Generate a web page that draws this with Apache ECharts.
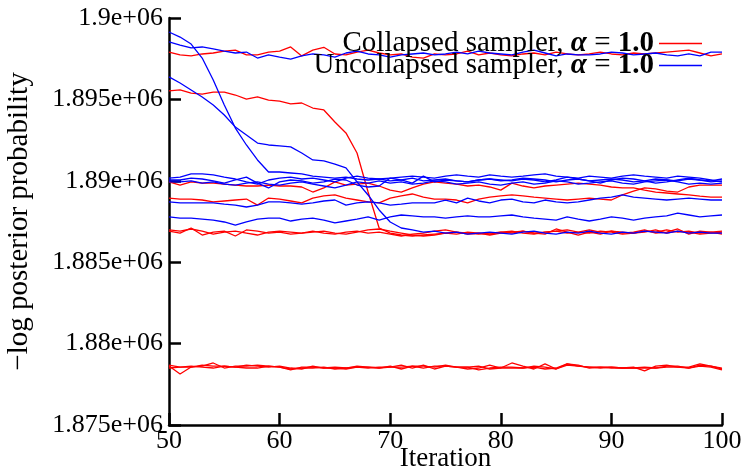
<!DOCTYPE html>
<html><head><meta charset="utf-8">
<script src="https://cdn.jsdelivr.net/npm/echarts@6/dist/echarts.min.js"></script>
<style>html,body{margin:0;padding:0;background:#fff}#c{width:747px;height:470px}</style>
</head><body><div id="c"></div>
<script>
const iterations = [50,51,52,53,54,55,56,57,58,59,60,61,62,63,64,65,66,67,68,69,70,71,72,73,74,75,76,77,78,79,80,81,82,83,84,85,86,87,88,89,90,91,92,93,94,95,96,97,98,99,100];
const yTicks = [1875000,1880000,1885000,1890000,1895000,1900000];
const collapsedName = 'Collapsed sampler, α = 1.0';
const uncollapsedName = 'Uncollapsed sampler, α = 1.0';

// Collapsed sampler runs (red)
const redA = [1897910,1897730,1897670,1897790,1897850,1897970,1898030,1897730,1897730,1897910,
  1897970,1898220,1897670,1898030,1898200,1897790,1897730,1897910,1898030,1897850,
  1897730,1897790,1897600,1897540,1897790,1897730,1897790,1897970,1897730,1897850,
  1897730,1897670,1897790,1897850,1897730,1897910,1897790,1897730,1897790,1897910,
  1897790,1897730,1897850,1897790,1897850,1897910,1897970,1898030,1897850,1897670,
  1897790];
const redB = [1895520,1895580,1895390,1895330,1895450,1895450,1895270,1895020,1895150,1894960,
  1894900,1894720,1894780,1894470,1894350,1893610,1892940,1891710,1889310,1887100,
  1886790,1886670,1886610,1886670,1886730,1886790,1886730,1886850,1886790,1886730,
  1886850,1886790,1886910,1886790,1886850,1886910,1886790,1886850,1886980,1886850,
  1886910,1886850,1886790,1886910,1886850,1886980,1886850,1886910,1886790,1886850,
  1886910];
const redC = [1889930,1889740,1889930,1889860,1889860,1889800,1889740,1889680,1889680,1889740,
  1889680,1889680,1889620,1889310,1889560,1889930,1889740,1889800,1889860,1889680,
  1889430,1889310,1889560,1889800,1889930,1889860,1889800,1889680,1889740,1889620,
  1889430,1889860,1889680,1889560,1889680,1889740,1889800,1889860,1889800,1889740,
  1889620,1889560,1889560,1889430,1889310,1889250,1889190,1889130,1889060,1889000,
  1889000];
const redD = [1888940,1888880,1888880,1888820,1888700,1888760,1888820,1888880,1888510,1888940,
  1888880,1888760,1888640,1888940,1889070,1889130,1888940,1888820,1888700,1888640,
  1888940,1889070,1889190,1889000,1888880,1888880,1888820,1888640,1888880,1889000,
  1889070,1889130,1889070,1889000,1888940,1888880,1888820,1888880,1888940,1888880,
  1888820,1889130,1889370,1889560,1889500,1889370,1889310,1889620,1889740,1889740,
  1889740];
const redE = [1886980,1886910,1887040,1886910,1886730,1886850,1886910,1886790,1886670,1886850,
  1886910,1886850,1886790,1886850,1886910,1886790,1886730,1886850,1886980,1887040,
  1886910,1886790,1886670,1886610,1886670,1886790,1886850,1886790,1886730,1886790,
  1886850,1886910,1886790,1886730,1886850,1886910,1886980,1886850,1886790,1886910,
  1886850,1886730,1886790,1886850,1886980,1886790,1886910,1886850,1886730,1886790,
  1886850];
const redF = [1886910,1886790,1887100,1886670,1886850,1886910,1886610,1886980,1886910,1886790,
  1886850,1886730,1886790,1886910,1886790,1886730,1886850,1886910,1886790,1886850,
  1886730,1886610,1886730,1886790,1886910,1886980,1886850,1886730,1886790,1886670,
  1886790,1886850,1886910,1886790,1886730,1887040,1886850,1886670,1886850,1886730,
  1886910,1886790,1886850,1886980,1886790,1886850,1887040,1886730,1886910,1886850,
  1886730];
const redG = [1878680,1878560,1878560,1878620,1878810,1878500,1878620,1878620,1878680,1878620,
  1878560,1878380,1878560,1878560,1878500,1878500,1878440,1878560,1878560,1878500,
  1878620,1878440,1878620,1878500,1878620,1878620,1878560,1878440,1878500,1878680,
  1878500,1878810,1878620,1878440,1878750,1878440,1878750,1878680,1878500,1878560,
  1878560,1878500,1878560,1878320,1878620,1878680,1878560,1878560,1878750,1878620,
  1878440];
const redH = [1878620,1878130,1878560,1878680,1878620,1878620,1878560,1878680,1878620,1878560,
  1878620,1878500,1878440,1878620,1878500,1878560,1878500,1878620,1878560,1878500,
  1878560,1878680,1878500,1878680,1878440,1878620,1878560,1878560,1878380,1878500,
  1878560,1878560,1878500,1878560,1878440,1878500,1878750,1878620,1878560,1878500,
  1878560,1878500,1878500,1878560,1878500,1878620,1878620,1878500,1878680,1878620,
  1878500];
const redI = [1878500,1878560,1878620,1878560,1878500,1878620,1878560,1878500,1878500,1878620,
  1878560,1878440,1878500,1878500,1878560,1878440,1878500,1878560,1878500,1878560,
  1878560,1878560,1878620,1878620,1878560,1878680,1878560,1878560,1878620,1878440,
  1878500,1878500,1878500,1878620,1878560,1878440,1878680,1878620,1878560,1878560,
  1878500,1878500,1878500,1878500,1878500,1878560,1878560,1878500,1878620,1878560,
  1878380];

// Uncollapsed sampler runs (blue)
const blueA = [1899140,1898830,1898400,1897540,1896190,1894660,1893240,1892200,1891280,1890540,
  1890540,1890480,1890420,1890290,1890230,1890170,1890230,1890110,1890050,1890110,
  1889990,1890050,1890170,1889990,1890050,1890110,1889990,1889930,1890050,1890110,
  1889990,1890050,1890170,1890110,1890050,1889930,1890050,1890110,1889990,1890050,
  1890110,1890050,1889930,1889990,1890110,1890050,1889990,1890110,1890050,1889930,
  1889990];
const blueB = [1898530,1898340,1898160,1898220,1898100,1897970,1897850,1897910,1897540,1897730,
  1897600,1897480,1897670,1897790,1897730,1897600,1897850,1897970,1897790,1897730,
  1897600,1897730,1897790,1897850,1897730,1897790,1897910,1897790,1897970,1897850,
  1897790,1897730,1897910,1898030,1897850,1897670,1897790,1897730,1897730,1897790,
  1897910,1897850,1897730,1897790,1897850,1897730,1897670,1897790,1897670,1897910,
  1897910];
const blueC = [1896380,1896010,1895580,1895150,1894660,1894040,1893300,1892810,1892320,1892200,
  1892140,1892080,1891710,1891280,1891220,1891030,1890790,1889930,1889130,1888210,
  1887470,1887100,1886980,1886850,1886910,1886790,1886850,1886730,1886790,1886850,
  1886790,1886730,1886850,1886910,1886790,1886730,1886850,1886790,1886910,1886790,
  1886730,1886850,1886790,1886910,1886850,1886790,1886910,1886790,1886850,1886790,
  1886790];
const blueD = [1890170,1890230,1890420,1890420,1890360,1890230,1890110,1889930,1889800,1890050,
  1890170,1890230,1890110,1890170,1890050,1889930,1890170,1890290,1890170,1890110,
  1890170,1890230,1890290,1890230,1890170,1890290,1890360,1890290,1890230,1890360,
  1890290,1890230,1890290,1890360,1890420,1890290,1890230,1890170,1890290,1890230,
  1890170,1890290,1890360,1890290,1890230,1890170,1890290,1890230,1890170,1890050,
  1889930];
const blueE = [1890050,1890050,1890170,1890110,1889990,1889860,1890050,1890230,1889860,1889560,
  1889930,1890050,1889990,1889860,1889930,1890110,1890050,1889740,1889620,1889680,
  1890170,1890050,1889860,1890290,1889930,1890050,1889990,1889930,1890050,1890110,
  1890050,1889990,1890110,1890050,1889930,1890050,1890230,1890110,1889990,1889860,
  1890050,1890170,1890110,1889990,1889860,1889930,1890050,1890170,1890050,1889990,
  1890110];
const blueF = [1889930,1889930,1889990,1889860,1889930,1889800,1889740,1889860,1889930,1889800,
  1889740,1889860,1889930,1889800,1889680,1889560,1889740,1889930,1889860,1889990,
  1889860,1889930,1889800,1889860,1889990,1889930,1889800,1889860,1889930,1889800,
  1889740,1889860,1889930,1889800,1889860,1889990,1889930,1889800,1889860,1889930,
  1889990,1889860,1889800,1889930,1889990,1890050,1889930,1889800,1889860,1889800,
  1889860];
const blueG = [1888700,1888640,1888640,1888640,1888640,1888570,1888510,1888390,1888510,1888700,
  1888700,1888640,1888570,1888640,1888760,1888820,1888510,1888640,1888700,1888640,
  1888510,1888570,1888640,1888640,1888640,1888820,1888640,1888940,1888760,1888640,
  1888820,1888880,1888700,1888640,1888820,1888700,1888640,1888700,1888820,1888940,
  1889000,1889130,1889000,1888940,1888880,1888820,1888880,1888940,1888880,1888820,
  1888820];
const blueH = [1887780,1887710,1887710,1887650,1887590,1887470,1887280,1887470,1887650,1887710,
  1887710,1887530,1887650,1887710,1887590,1887410,1887530,1887650,1887780,1887590,
  1887780,1887900,1887840,1887780,1887780,1887710,1887780,1887840,1887780,1887780,
  1887840,1887900,1887780,1887710,1887650,1887590,1887780,1887650,1887530,1887650,
  1887780,1887710,1887590,1887710,1887780,1887840,1888020,1887900,1887780,1887840,
  1887900];

const redRuns = [redA, redB, redC, redD, redE, redF, redG, redH, redI];
const blueRuns = [blueA, blueB, blueC, blueD, blueE, blueF, blueG, blueH];

const FONT = 'Liberation Serif';
function mk(name, color, vals) {
  return {
    name: name, type: 'line', symbol: 'none', showSymbol: false,
    data: vals.map((v, i) => [iterations[i], v]),
    lineStyle: { color: color, width: 1.3 }, itemStyle: { color: color },
    emphasis: { disabled: true }, animation: false
  };
}
const series = [];
redRuns.forEach(r => series.push(mk(collapsedName, '#ff0000', r)));
blueRuns.forEach(r => series.push(mk(uncollapsedName, '#0000ff', r)));

function fmtY(v) {
  return String(parseFloat((v / 1e6).toPrecision(6))) + 'e+06';
}

const LF = 29;
const chart = echarts.init(document.getElementById('c'), null, { renderer: 'canvas' });
chart.setOption({
  animation: false,
  backgroundColor: '#ffffff',
  textStyle: { fontFamily: FONT },
  grid: { left: 169, right: 25, top: 18, bottom: 45, containLabel: false, outerBoundsMode: 'none' },
  legend: {
    data: [collapsedName, uncollapsedName],
    right: 40, top: 24, orient: 'vertical', align: 'right',
    icon: 'rect', itemWidth: 43, itemHeight: 1.5, itemGap: -7,
    inactiveColor: '#000',
    selectedMode: false,
    formatter: function (n) {
      const parts = n.split('α = 1.0');
      return '{n|' + parts[0] + '}{a|α}{n| = }{b|1.0}';
    },
    textStyle: {
      color: '#000', fontFamily: FONT, fontSize: LF, lineHeight: 20, padding: [0, 0, 0, 0],
      rich: {
        n: { fontFamily: FONT, fontSize: LF, lineHeight: 20, color: '#000' },
        a: { fontFamily: FONT, fontSize: LF, lineHeight: 20, fontStyle: 'italic', fontWeight: 'bold', color: '#000' },
        b: { fontFamily: FONT, fontSize: LF, lineHeight: 20, fontWeight: 'bold', color: '#000' }
      }
    }
  },
  xAxis: {
    type: 'value', min: 50, max: 100, interval: 10,
    name: 'Iteration', nameLocation: 'middle', nameGap: 22, nameMoveOverlap: false,
    nameTextStyle: { fontFamily: FONT, fontSize: 27, color: '#000', verticalAlign: 'top', lineHeight: 24 },
    axisLine: { show: true, onZero: false, lineStyle: { color: '#000', width: 2.5 } },
    axisTick: { show: true, inside: true, length: 12, lineStyle: { color: '#000', width: 2.5 } },
    axisLabel: { fontFamily: FONT, fontSize: 26, color: '#000', margin: 3 },
    splitLine: { show: false }
  },
  yAxis: {
    type: 'value', min: yTicks[0], max: yTicks[yTicks.length - 1], interval: 5000,
    name: '−log posterior probability', nameLocation: 'middle', nameGap: 135,
    nameTextStyle: { fontFamily: FONT, fontSize: 29, color: '#000' },
    axisLine: { show: true, onZero: false, lineStyle: { color: '#000', width: 2.5 } },
    axisTick: { show: true, inside: true, length: 12, lineStyle: { color: '#000', width: 2.5 } },
    axisLabel: { fontFamily: FONT, fontSize: 26, color: '#000', margin: 6, formatter: fmtY },
    splitLine: { show: false }
  },
  series: series
});
</script>
</body></html>
